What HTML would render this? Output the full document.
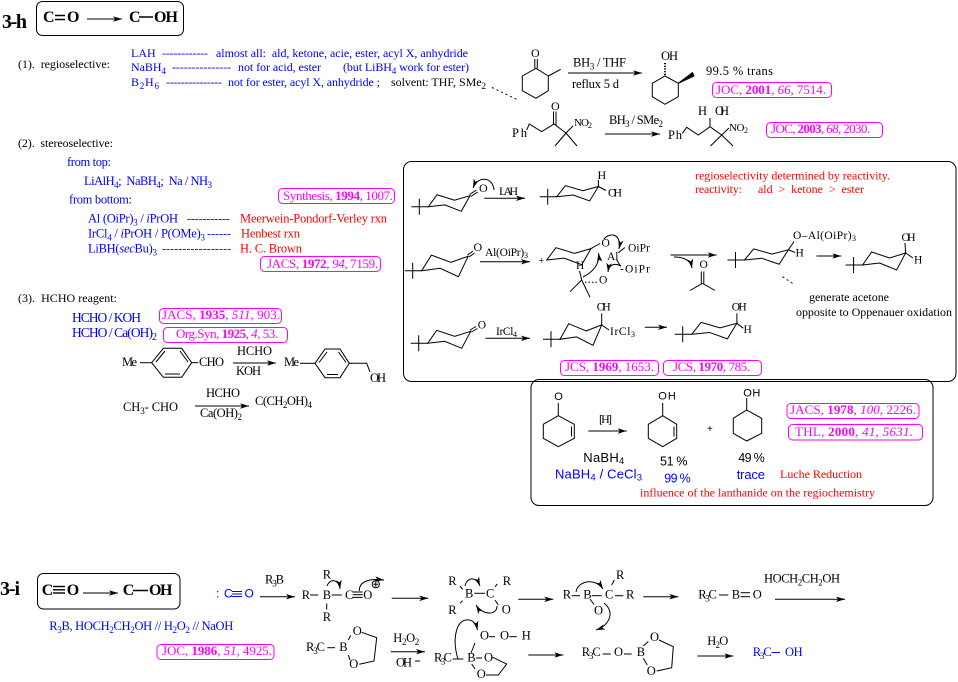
<!DOCTYPE html>
<html><head><meta charset="utf-8">
<style>
html,body{margin:0;padding:0;background:#fff;width:958px;height:682px;overflow:hidden}
svg{display:block}
text{font-family:"Liberation Serif",serif;font-size:12px;fill:#000;white-space:pre}
.s{font-family:"Liberation Sans",sans-serif}
.b{fill:#00f}.r{fill:#f00}.m{fill:#f0f;font-size:13px}
.bd{font-weight:bold}
.i{font-style:italic}
.k{font-size:12.5px}
</style></head><body>
<svg xmlns="http://www.w3.org/2000/svg" width="958" height="682" viewBox="0 0 958 682">
<defs>
<marker id="a" viewBox="0 0 10 6" refX="10" refY="3" markerWidth="9" markerHeight="5.5" orient="auto" markerUnits="userSpaceOnUse"><path d="M0,0 L10,3 L0,6 L2.5,3z" style="fill:#000;stroke:none"/></marker>
<path id="ch" d="M0,0 L9,-13 L27,-7 L43,-12 L34,5 L17,-2 Z" vector-effect="non-scaling-stroke"/>
<path id="tb" d="M-17,0 H0 M-9,-8 V8"/>
</defs>

<g stroke="#000" stroke-width="1" fill="none">
<!-- 3-h header box -->
<rect x="36.5" y="1.5" width="147" height="34" rx="6"/>
<line x1="55" y1="15.5" x2="65" y2="15.5" stroke-width="1.5"/><line x1="55" y1="19.5" x2="65" y2="19.5" stroke-width="1.5"/>
<line x1="87" y1="19" x2="122" y2="19" marker-end="url(#a)"/>
<line x1="139" y1="17" x2="153" y2="17" stroke-width="1.5"/>

<line x1="492" y1="87.5" x2="517" y2="99.5" stroke-dasharray="2,3"/>

<!-- 2-methylcyclohexanone -->
<polygon points="536,68.3 548.3,76 548.3,90.7 536,98.3 522.3,90.7 522.3,76"/>
<line x1="548.3" y1="76" x2="560.7" y2="69.3"/>
<line x1="534.8" y1="68.3" x2="534.8" y2="59"/><line x1="537.3" y1="68.3" x2="537.3" y2="59"/>
<line x1="568" y1="73" x2="642" y2="73" marker-end="url(#a)"/>
<polygon points="665,76 678.3,83.3 678.3,96.7 665,104.3 652.3,96.7 652.3,83.3"/>
<line x1="665" y1="75" x2="665" y2="63" stroke-width="2" stroke-dasharray="1.2,1.5"/>
<polygon points="678.3,83.3 692.5,72.5 694,76" fill="#000"/>

<!-- nitro ketone -->
<polyline points="526.7,130 529.3,124 541.7,131.7 554,124 566,133"/>
<line x1="553.5" y1="124" x2="553.5" y2="111.5"/><line x1="556" y1="125" x2="556" y2="111.5"/>
<line x1="566" y1="133" x2="555" y2="146"/><line x1="566" y1="133" x2="577" y2="146"/><line x1="566" y1="133" x2="573" y2="126"/>
<line x1="605" y1="134" x2="660" y2="134" marker-end="url(#a)"/>
<polyline points="682.3,133.3 686.7,127.3 698.3,135 710,126.7 721.7,135"/>
<line x1="710" y1="126.7" x2="710" y2="118"/>
<line x1="721.7" y1="135" x2="710.5" y2="146"/><line x1="721.7" y1="135" x2="733" y2="146"/><line x1="721.7" y1="135" x2="729" y2="128"/>

<!-- big box 1 -->
<rect x="403.5" y="161.5" width="552.5" height="220" rx="8"/>
<!-- row 1 -->
<use href="#tb" x="428.3" y="206.7"/>
<use href="#ch" transform="translate(428.3,206.7) scale(0.97,0.92)"/>
<line x1="469.5" y1="194.5" x2="476.5" y2="190"/><line x1="470.8" y1="196.5" x2="477.8" y2="192"/>
<path d="M494,190 C493,177 478,175 473,188" marker-end="url(#a)"/>
<line x1="484.3" y1="198.3" x2="525" y2="198.3" marker-end="url(#a)"/>
<use href="#tb" x="556.7" y="196.7"/>
<use href="#ch" transform="translate(556.7,196.7) scale(0.97,0.85)"/>
<line x1="598.4" y1="186.5" x2="598.4" y2="180"/><line x1="598.4" y1="186.5" x2="606" y2="190.5"/>
<!-- row 2 -->
<use href="#tb" x="421.7" y="270.7"/>
<use href="#ch" transform="translate(421.7,270.7) scale(1.08,1.2)"/>
<line x1="467.5" y1="255" x2="473" y2="251"/><line x1="469" y1="257" x2="474.5" y2="253"/>
<line x1="480" y1="261.7" x2="530" y2="261.7" marker-end="url(#a)"/>
<use href="#ch" transform="translate(546.7,260) scale(1.03,0.95)"/>
<line x1="591" y1="248.6" x2="600" y2="243.5"/>
<line x1="581.7" y1="280" x2="570" y2="291.7"/><line x1="581.7" y1="280" x2="590" y2="297.3"/><line x1="581.7" y1="280" x2="579.5" y2="271"/>
<line x1="585" y1="282.3" x2="598.3" y2="282.3" stroke-dasharray="1.5,2"/>
<line x1="618.3" y1="252.7" x2="625" y2="247.5"/><line x1="616.7" y1="260" x2="620" y2="265"/>
<path d="M604,239 C611,231 622,235 619,249" marker-end="url(#a)"/>
<path d="M583,277 C593,272 600,264 598.5,253" marker-end="url(#a)"/>
<path d="M621,266 C615,263 609,264 608,272" marker-end="url(#a)"/>
<line x1="670.5" y1="255" x2="716.7" y2="255" marker-end="url(#a)"/>
<path d="M674,257 Q690,257 692,268" marker-end="url(#a)"/>
<line x1="701.3" y1="283.3" x2="701.3" y2="271.5"/><line x1="703.8" y1="283.3" x2="703.8" y2="271.5"/>
<line x1="702.5" y1="283.3" x2="690" y2="290.5"/><line x1="702.5" y1="283.3" x2="715" y2="290.5"/>
<use href="#tb" x="744.5" y="260"/>
<use href="#ch" transform="translate(744.5,260) scale(1.02,0.85)"/>
<line x1="788.4" y1="249.8" x2="794" y2="241.5"/><line x1="788.4" y1="249.8" x2="795" y2="252.5"/>
<line x1="782.6" y1="276.7" x2="795" y2="285" stroke-dasharray="2,3"/>
<line x1="816.4" y1="256" x2="841.3" y2="256" marker-end="url(#a)"/>
<use href="#tb" x="862.6" y="265"/>
<use href="#ch" transform="translate(862.6,265)"/>
<line x1="905.6" y1="253" x2="905" y2="243"/><line x1="905.6" y1="253" x2="913" y2="258"/>
<!-- row 3 -->
<use href="#tb" x="427.7" y="343.3"/>
<use href="#ch" x="427.7" y="343.3"/>
<line x1="470" y1="330" x2="476" y2="326.5"/><line x1="471.4" y1="332" x2="477.4" y2="328.5"/>
<line x1="485.4" y1="338.3" x2="530" y2="338.3" marker-end="url(#a)"/>
<use href="#tb" x="560" y="339.3"/>
<use href="#ch" transform="translate(560,339.3) scale(0.97,1.2)"/>
<line x1="601.7" y1="325" x2="601.7" y2="313.3"/><line x1="601.7" y1="325" x2="609" y2="330"/>
<line x1="644.8" y1="327.3" x2="667" y2="327.3" marker-end="url(#a)"/>
<use href="#tb" x="691.7" y="334.3"/>
<use href="#ch" transform="translate(691.7,334.3) scale(1.05,0.92)"/>
<line x1="736.9" y1="323.3" x2="736.9" y2="313.3"/><line x1="736.9" y1="323.3" x2="743.3" y2="328.3"/>

<!-- box 2 Luche -->
<rect x="531" y="379.5" width="402" height="126" rx="8"/>
<polygon points="558.3,415.7 574.3,424.3 574.3,438.3 558.3,446.7 543.3,438.3 543.3,424.3"/>
<line x1="571.5" y1="426.5" x2="571.5" y2="436.5"/>
<line x1="558.3" y1="415.7" x2="558.3" y2="403"/>
<line x1="588.3" y1="431" x2="626.7" y2="431" marker-end="url(#a)"/>
<polygon points="662.7,415.7 676.7,424.3 676.7,438.3 662.7,446.7 648.3,438.3 648.3,424.3"/>
<line x1="674" y1="426.5" x2="674" y2="436.5"/>
<line x1="662.7" y1="415.7" x2="662.7" y2="403"/>
<polygon points="746.7,410 761.7,418.3 761.7,433.3 746.7,441 733.3,433.3 733.3,418.3"/>
<line x1="746.7" y1="410" x2="746.7" y2="398"/>

<!-- section 3 rings -->
<line x1="140" y1="362.7" x2="151.7" y2="362.7"/>
<polygon points="151.7,362.7 163.3,348.3 181.7,348.3 191.7,362.7 181.7,377.3 163.3,377.3"/>
<line x1="156" y1="362" x2="165" y2="351"/><line x1="180" y1="351" x2="188" y2="362"/><line x1="165" y1="374" x2="180" y2="374"/>
<line x1="191.7" y1="362.7" x2="198.3" y2="362.7"/>
<line x1="233" y1="363" x2="276" y2="363" marker-end="url(#a)"/>
<line x1="300" y1="363.3" x2="315" y2="363.3"/>
<polygon points="315,363.3 325,349 340,349 349.3,363.3 340,377.7 325,377.7"/>
<line x1="319" y1="362.5" x2="327" y2="352"/><line x1="338.5" y1="352" x2="346" y2="362.5"/><line x1="327" y1="374.5" x2="338" y2="374.5"/>
<polyline points="349.3,363.3 366.7,363.3 370,372"/>
<line x1="195" y1="406" x2="249" y2="406" marker-end="url(#a)"/>

<!-- 3-i -->
<rect x="37.5" y="573.5" width="142.5" height="35.5" rx="6"/>
<line x1="53" y1="586.5" x2="65" y2="586.5" stroke-width="1.4"/><line x1="53" y1="589.8" x2="65" y2="589.8" stroke-width="1.4"/><line x1="53" y1="593" x2="65" y2="593" stroke-width="1.4"/>
<line x1="83" y1="593" x2="118" y2="593" marker-end="url(#a)"/>
<line x1="133" y1="590.5" x2="148" y2="590.5" stroke-width="1.5"/>
<line x1="260" y1="596.7" x2="295" y2="596.7" marker-end="url(#a)"/>
<line x1="310" y1="595" x2="318.3" y2="595"/><line x1="331.7" y1="595" x2="341.7" y2="595"/>
<line x1="352.7" y1="592" x2="362.7" y2="592"/><line x1="352.7" y1="594.7" x2="362.7" y2="594.7"/><line x1="352.7" y1="597.4" x2="362.7" y2="597.4"/>
<line x1="326.7" y1="603.5" x2="326.7" y2="609.5"/>
<path d="M327,586 C330,578 339,579 340,589" marker-end="url(#a)"/>
<path d="M359.3,591 C359,583 366,578 384,580" marker-end="url(#a)"/>
<circle cx="375.8" cy="584.2" r="3.6"/><line x1="373.3" y1="584.2" x2="378.3" y2="584.2"/><line x1="375.8" y1="581.7" x2="375.8" y2="586.7"/>
<line x1="391.7" y1="598.3" x2="428.3" y2="598.3" marker-end="url(#a)"/>
<line x1="460" y1="586" x2="462.7" y2="589.3"/><line x1="460" y1="603.3" x2="462.7" y2="600.7"/>
<line x1="474.3" y1="593.3" x2="485" y2="593.3"/><line x1="495" y1="586.7" x2="497.3" y2="584"/><line x1="495" y1="600" x2="498.3" y2="605"/>
<path d="M465,586 C467,577 476,576 480,586" marker-end="url(#a)"/>
<path d="M497,606 C497,616 482,615 476,605" marker-end="url(#a)"/>
<line x1="518.3" y1="599.3" x2="553.3" y2="599.3" marker-end="url(#a)"/>
<line x1="571.7" y1="595.7" x2="580" y2="595.7"/><line x1="591.7" y1="595.7" x2="601.7" y2="595.7"/><line x1="615" y1="595.7" x2="623.3" y2="595.7"/>
<line x1="611.7" y1="585" x2="614.3" y2="580"/><line x1="590" y1="599" x2="594" y2="604.5"/>
<path d="M576,592 C578,580 596,578 603,589" marker-end="url(#a)"/>
<path d="M604,603 C615,612 610,625 596,630" marker-end="url(#a)"/>
<line x1="643.3" y1="596.7" x2="678.3" y2="596.7" marker-end="url(#a)"/>
<line x1="719" y1="595" x2="728.3" y2="595"/>
<line x1="740.7" y1="592.7" x2="750" y2="592.7"/><line x1="740.7" y1="596.7" x2="750" y2="596.7"/>
<line x1="775" y1="599.3" x2="845" y2="599.3" marker-end="url(#a)"/>
<!-- lower row -->
<line x1="327.3" y1="647.7" x2="335" y2="647.7"/>
<line x1="348.3" y1="640" x2="350.7" y2="635.5"/><line x1="348.3" y1="655" x2="350" y2="660"/>
<polyline points="361.7,632.3 376.7,637.7 374,661 359.3,664.3"/>
<line x1="390.7" y1="651.7" x2="425" y2="651.7" marker-end="url(#a)"/>
<line x1="415" y1="661" x2="420" y2="661"/>
<line x1="452.7" y1="659" x2="463.3" y2="659"/>
<line x1="476" y1="658" x2="482" y2="658"/>
<line x1="471.7" y1="664" x2="475" y2="669"/>
<line x1="471" y1="653" x2="475" y2="643"/>
<polyline points="492.7,657.3 506.7,664 498.3,675 486,675"/>
<line x1="489" y1="636.7" x2="495" y2="636.7"/><line x1="509.3" y1="636.7" x2="516.7" y2="636.7"/>
<path d="M458,659 C452,640 456,621 466,620 C472,619 476,623 477.5,630" marker-end="url(#a)"/>
<line x1="528.3" y1="655" x2="563.3" y2="655" marker-end="url(#a)"/>
<line x1="602.7" y1="654" x2="610.7" y2="654"/><line x1="624" y1="654" x2="631.7" y2="654"/>
<line x1="643.3" y1="646" x2="648.3" y2="641.5"/><line x1="643.3" y1="658.3" x2="647.3" y2="665"/>
<polyline points="659,640 673.3,646.7 671.7,667.7 656.7,671"/>
<line x1="697.3" y1="656" x2="733.3" y2="656" marker-end="url(#a)"/>
</g>
<g stroke="#00f" fill="none">
<line x1="232" y1="591.5" x2="242" y2="591.5"/><line x1="232" y1="594" x2="242" y2="594"/><line x1="232" y1="596.5" x2="242" y2="596.5"/>
<line x1="771.7" y1="652.5" x2="780" y2="652.5"/>
</g>

<!-- reference boxes -->
<g stroke="#f0f" fill="none">
<rect x="712.5" y="82.5" width="119" height="15" rx="4"/>
<rect x="766.5" y="122.5" width="116" height="15" rx="4"/>
<rect x="278.5" y="188.5" width="116" height="15" rx="4"/>
<rect x="260.5" y="256.5" width="120" height="15" rx="4"/>
<rect x="159.5" y="308.5" width="122" height="15" rx="4"/>
<rect x="163.5" y="327.5" width="124" height="15" rx="4"/>
<rect x="560.5" y="360.5" width="98" height="15" rx="4"/>
<rect x="663.5" y="360.5" width="98" height="15" rx="4"/>
<rect x="787" y="403.5" width="132" height="15" rx="4"/>
<rect x="788.5" y="424.5" width="134" height="15.5" rx="4"/>
<rect x="157" y="644.5" width="117" height="15" rx="4"/>
</g>
<text x="716" y="94" class="m" textLength="110">JOC, <tspan class="bd">2001</tspan>, <tspan class="i">66</tspan>, 7514.</text>
<text x="771" y="133" class="m" textLength="99">JOC, <tspan class="bd">2003</tspan>, <tspan class="i">68</tspan>, 2030.</text>
<text x="283" y="200" class="m" textLength="110">Synthesis, <tspan class="bd">1994</tspan>, 1007.</text>
<text x="267" y="268" class="m" textLength="111">JACS, <tspan class="bd">1972</tspan>, <tspan class="i">94</tspan>, 7159.</text>
<text x="162" y="319" class="m" textLength="118">JACS, <tspan class="bd">1935</tspan>, <tspan class="i">511</tspan>, 903.</text>
<text x="176" y="338" class="m" textLength="102">Org.Syn, <tspan class="bd">1925</tspan>, <tspan class="i">4</tspan>, 53.</text>
<text x="565" y="371" class="m" textLength="89">JCS, <tspan class="bd">1969</tspan>, 1653.</text>
<text x="673" y="371" class="m" textLength="77">JCS, <tspan class="bd">1970</tspan>, 785.</text>
<text x="790" y="414" class="m" textLength="126">JACS, <tspan class="bd">1978</tspan>, <tspan class="i">100</tspan>, 2226.</text>
<text x="795" y="436" class="m" textLength="118">THL, <tspan class="bd">2000</tspan>, <tspan class="i">41</tspan>, <tspan class="i">5631.</tspan></text>
<text x="162" y="655" class="m" textLength="110">JOC, <tspan class="bd">1986</tspan>, <tspan class="i">51</tspan>, 4925.</text>

<!-- header texts -->
<text x="2" y="28" class="bd" style="font-size:20px" textLength="25">3-h</text>
<text x="43" y="22" class="bd" style="font-size:16px">C</text>
<text x="67" y="22" class="bd" style="font-size:16px">O</text>
<text x="129" y="22" class="bd" style="font-size:16px">C</text>
<text x="154" y="22" class="bd" style="font-size:16px" textLength="24">OH</text>

<!-- section 1 -->
<text x="18" y="68" textLength="92">(1).  regioselective:</text>
<text x="131" y="57" class="b">LAH</text>
<text x="162" y="57" class="b" textLength="46">------------</text>
<text x="216" y="57" class="b" textLength="252">almost all:  ald, ketone, acie, ester, acyl X, anhydride</text>
<text x="131" y="71" class="b" textLength="35">NaBH<tspan dy="3" style="font-size:9px">4</tspan></text>
<text x="172" y="71" class="b" textLength="59">---------------</text>
<text x="238" y="71" class="b" textLength="83">not for acid, ester</text>
<text x="343" y="71" class="b" textLength="126">(but LiBH<tspan dy="3" style="font-size:9px">4</tspan><tspan dy="-3"> work for ester)</tspan></text>
<text x="131" y="86" class="b" textLength="28">B<tspan dy="3" style="font-size:9px">2</tspan><tspan dy="-3">H</tspan><tspan dy="3" style="font-size:9px">6</tspan></text>
<text x="166" y="86" class="b" textLength="56">---------------</text>
<text x="228" y="86" class="b" textLength="152">not for ester, acyl X, anhydride ;</text>
<text x="391" y="86" textLength="95">solvent: THF, SMe<tspan dy="3" style="font-size:9px">2</tspan></text>

<!-- top-right reactions -->
<text x="531" y="57">O</text>
<text x="573" y="66.5" class="k" textLength="53">BH<tspan dy="3" style="font-size:9px">3</tspan><tspan dy="-3"> / THF</tspan></text>
<text x="572" y="88" class="k" textLength="47">reflux 5 d</text>
<text x="661" y="60" class="k" textLength="17">OH</text>
<text x="706" y="75" class="k" textLength="67">99.5 % trans</text>
<text x="512" y="137" class="k" textLength="15">Ph</text>
<text x="551" y="110">O</text>
<text x="574" y="126" style="font-size:11px" textLength="18">NO<tspan dy="2" style="font-size:8px">2</tspan></text>
<text x="609" y="124" class="k" textLength="54">BH<tspan dy="3" style="font-size:9px">3</tspan><tspan dy="-3"> / SMe</tspan><tspan dy="3" style="font-size:9px">2</tspan></text>
<text x="668" y="139" class="k" textLength="14">Ph</text>
<text x="698" y="115" class="k">H</text>
<text x="715" y="115" class="k" textLength="14">OH</text>
<text x="729" y="131" style="font-size:11px" textLength="19">NO<tspan dy="2" style="font-size:8px">2</tspan></text>

<!-- section 2 -->
<text x="18" y="147" textLength="95">(2).  stereoselective:</text>
<text x="67" y="166" class="b k" textLength="44">from top:</text>
<text x="84" y="185" class="b k" textLength="128">LiAlH<tspan dy="3" style="font-size:9px">4</tspan><tspan dy="-3">;  NaBH</tspan><tspan dy="3" style="font-size:9px">4</tspan><tspan dy="-3">;  Na / NH</tspan><tspan dy="3" style="font-size:9px">3</tspan></text>
<text x="69" y="203.5" class="b k" textLength="63">from bottom:</text>
<text x="88" y="222.5" class="b k" textLength="90">Al (OiPr)<tspan dy="3" style="font-size:9px">3</tspan><tspan dy="-3"> / </tspan><tspan class="i">i</tspan>PrOH</text>
<text x="187" y="222.5" class="b" textLength="43">-----------</text>
<text x="240" y="222.5" class="r k" textLength="147">Meerwein-Pondorf-Verley rxn</text>
<text x="88" y="237.5" class="b k" textLength="117">IrCl<tspan dy="3" style="font-size:9px">4</tspan><tspan dy="-3"> / </tspan><tspan class="i">i</tspan>PrOH / P(OMe)<tspan dy="3" style="font-size:9px">3</tspan></text>
<text x="207" y="237.5" class="b" textLength="24">------</text>
<text x="241" y="237.5" class="r k" textLength="59">Henbest rxn</text>
<text x="88" y="252.5" class="b k" textLength="69">LiBH(<tspan class="i">sec</tspan>Bu)<tspan dy="3" style="font-size:9px">3</tspan></text>
<text x="162" y="252.5" class="b" textLength="69">-----------------</text>
<text x="240" y="252.5" class="r k" textLength="62">H. C. Brown</text>

<!-- section 3 -->
<text x="18" y="302" textLength="99">(3).  HCHO reagent:</text>
<text x="72" y="322" class="b" style="font-size:13.5px" textLength="69">HCHO / KOH</text>
<text x="72" y="337" class="b" style="font-size:13.5px" textLength="85">HCHO / Ca(OH)<tspan dy="3" style="font-size:10px">2</tspan></text>
<text x="122" y="366" class="k" textLength="15">Me</text>
<text x="199" y="366" class="k" textLength="25">CHO</text>
<text x="237" y="355" class="k" textLength="35">HCHO</text>
<text x="236" y="375" class="k" textLength="25">KOH</text>
<text x="284" y="366" class="k" textLength="15">Me</text>
<text x="370" y="382" class="k" textLength="16">OH</text>
<text x="123" y="411" class="k" textLength="55">CH<tspan dy="3" style="font-size:9px">3</tspan><tspan dy="-3">- CHO</tspan></text>
<text x="206" y="397" class="k" textLength="34">HCHO</text>
<text x="200" y="417" class="k" textLength="42">Ca(OH)<tspan dy="3" style="font-size:9px">2</tspan></text>
<text x="255" y="405" class="k" textLength="57">C(CH<tspan dy="3" style="font-size:9px">2</tspan><tspan dy="-3">OH)</tspan><tspan dy="3" style="font-size:9px">4</tspan></text>

<!-- box 1 texts -->
<text x="479" y="192">O</text>
<text x="499" y="195" textLength="19">LAH</text>
<text x="597.5" y="179">H</text>
<text x="608" y="196.5" textLength="14">OH</text>
<text x="695" y="179.5" class="r" textLength="195">regioselectivity determined by reactivity.</text>
<text x="695" y="193" class="r" textLength="47">reactivity:</text>
<text x="758" y="193" class="r" textLength="106">ald  &gt;  ketone  &gt;  ester</text>
<text x="473.5" y="251">O</text>
<text x="485" y="256" style="font-size:11.5px" textLength="43">Al(OiPr)<tspan dy="2" style="font-size:8px">3</tspan></text>
<text x="538.5" y="264" style="font-size:10px">+</text>
<text x="601.5" y="246.5" style="font-size:11.5px">O</text>
<text x="576" y="269" style="font-size:11.5px">H</text>
<text x="607" y="260" style="font-size:11.5px">Al</text>
<text x="628" y="251.7" style="font-size:11.5px" textLength="22">OiPr</text>
<text x="620" y="272.5" style="font-size:11.5px" textLength="30">-OiPr</text>
<text x="599" y="283.5" style="font-size:11.5px">O</text>
<text x="699.5" y="268" style="font-size:11.5px">O</text>
<text x="793" y="239" style="font-size:11.5px" textLength="63">O–Al(OiPr)<tspan dy="2" style="font-size:8px">3</tspan></text>
<text x="795.5" y="256.5" style="font-size:11.5px">H</text>
<text x="901.5" y="241" style="font-size:11.5px" textLength="14">OH</text>
<text x="914" y="263.5" style="font-size:11.5px">H</text>
<text x="809" y="301" textLength="80">generate acetone</text>
<text x="796" y="316" textLength="156">opposite to Oppenauer oxidation</text>
<text x="477.7" y="328.3" style="font-size:11.5px">O</text>
<text x="496" y="335" style="font-size:11.5px" textLength="21">IrCl<tspan dy="2" style="font-size:8px">4</tspan></text>
<text x="596.7" y="310.5" style="font-size:11.5px" textLength="14">OH</text>
<text x="610" y="335" style="font-size:11.5px" textLength="25">IrCl<tspan dy="2" style="font-size:8px">3</tspan></text>
<text x="731.7" y="310.7" style="font-size:11.5px" textLength="15">OH</text>
<text x="743.5" y="333" style="font-size:11.5px">H</text>

<!-- Luche texts -->
<text x="554.3" y="400" class="s" style="font-size:11px">O</text>
<text x="599" y="423" textLength="13">[H]</text>
<text x="658.3" y="399.5" class="s" style="font-size:11px" textLength="17.5">OH</text>
<text x="707" y="432" class="s" style="font-size:10px">+</text>
<text x="743.3" y="396.7" class="s" style="font-size:11px" textLength="17">OH</text>
<text x="583.3" y="462" class="s" style="font-size:13px" textLength="41">NaBH<tspan dy="2" style="font-size:9.5px">4</tspan></text>
<text x="660" y="465.3" class="s" style="font-size:12.5px" textLength="27.5">51 %</text>
<text x="738.3" y="462" class="s" style="font-size:12.5px" textLength="26.5">49 %</text>
<text x="555" y="478.5" class="s b" style="font-size:13px" textLength="87">NaBH<tspan dy="2" style="font-size:9.5px">4</tspan><tspan dy="-2"> / CeCl</tspan><tspan dy="2" style="font-size:9.5px">3</tspan></text>
<text x="664.3" y="482.5" class="s b" style="font-size:12.5px" textLength="26.5">99 %</text>
<text x="736.7" y="479" class="s b" style="font-size:13px" textLength="28.3">trace</text>
<text x="780" y="478" class="r" textLength="82">Luche Reduction</text>
<text x="640" y="496.5" class="r" textLength="235">influence of the lanthanide on the regiochemistry</text>

<!-- 3-i texts -->
<text x="0" y="595" class="bd" style="font-size:20px" textLength="20">3-i</text>
<text x="41.7" y="595" class="bd" style="font-size:16px">C</text>
<text x="66.7" y="595" class="bd" style="font-size:16px">O</text>
<text x="122.7" y="595" class="bd" style="font-size:16px">C</text>
<text x="149" y="595" class="bd" style="font-size:16px" textLength="23.5">OH</text>
<text x="216" y="597.7" class="s b">:</text>
<text x="224" y="597.7" class="s b">C</text>
<text x="244.5" y="597.7" class="s b">O</text>
<text x="49.3" y="630" class="b k" textLength="184">R<tspan dy="3" style="font-size:9px">3</tspan><tspan dy="-3">B, HOCH</tspan><tspan dy="3" style="font-size:9px">2</tspan><tspan dy="-3">CH</tspan><tspan dy="3" style="font-size:9px">2</tspan><tspan dy="-3">OH // H</tspan><tspan dy="3" style="font-size:9px">2</tspan><tspan dy="-3">O</tspan><tspan dy="3" style="font-size:9px">2</tspan><tspan dy="-3"> // NaOH</tspan></text>
<text x="265" y="583.3" class="k" textLength="19">R<tspan dy="3" style="font-size:9px">3</tspan><tspan dy="-3">B</tspan></text>
<text x="301.7" y="599" class="k">R</text>
<text x="322.7" y="599" class="k">B</text>
<text x="345" y="599" class="k">C</text>
<text x="363.3" y="599" class="k">O</text>
<text x="322.7" y="578.3" class="k">R</text>
<text x="322.7" y="621" class="k">R</text>
<text x="448.3" y="585" class="k">R</text>
<text x="465" y="597.3" class="k">B</text>
<text x="448.3" y="614" class="k">R</text>
<text x="486" y="597.3" class="k">C</text>
<text x="502.7" y="585" class="k">R</text>
<text x="501.7" y="613.3" class="k">O</text>
<text x="562.7" y="598.3" class="k">R</text>
<text x="583.3" y="598.3" class="k">B</text>
<text x="605" y="598.3" class="k">C</text>
<text x="626" y="598.3" class="k">R</text>
<text x="616" y="579" class="k">R</text>
<text x="594" y="614.3" class="k">O</text>
<text x="698.3" y="598.3" class="k" textLength="18.5">R<tspan dy="3" style="font-size:9px">3</tspan><tspan dy="-3">C</tspan></text>
<text x="731.7" y="598.3" class="k">B</text>
<text x="752.7" y="598.3" class="k">O</text>
<text x="764" y="582.3" class="k" textLength="76">HOCH<tspan dy="3" style="font-size:9px">2</tspan><tspan dy="-3">CH</tspan><tspan dy="3" style="font-size:9px">2</tspan><tspan dy="-3">OH</tspan></text>
<text x="306" y="651" class="k" textLength="19">R<tspan dy="3" style="font-size:9px">3</tspan><tspan dy="-3">C</tspan></text>
<text x="339.3" y="651" class="k">B</text>
<text x="352.7" y="635" class="k">O</text>
<text x="349.3" y="668" class="k">O</text>
<text x="393.3" y="642" class="k" textLength="26">H<tspan dy="3" style="font-size:9px">2</tspan><tspan dy="-3">O</tspan><tspan dy="3" style="font-size:9px">2</tspan></text>
<text x="396" y="666.7" class="k" textLength="16">OH</text>
<text x="434" y="661.7" class="k" textLength="18">R<tspan dy="3" style="font-size:9px">3</tspan><tspan dy="-3">C</tspan></text>
<text x="467.3" y="661.7" class="k">B</text>
<text x="484" y="661.7" class="k">O</text>
<text x="476.7" y="678" class="k">O</text>
<text x="480" y="639.3" class="k">O</text>
<text x="500" y="639.3" class="k">O</text>
<text x="521.7" y="639.3" class="k">H</text>
<text x="581.7" y="656" class="k" textLength="19">R<tspan dy="3" style="font-size:9px">3</tspan><tspan dy="-3">C</tspan></text>
<text x="614" y="656" class="k">O</text>
<text x="636.7" y="656" class="k">B</text>
<text x="650" y="641" class="k">O</text>
<text x="646.7" y="675" class="k">O</text>
<text x="707.3" y="645" class="k" textLength="21">H<tspan dy="3" style="font-size:9px">2</tspan><tspan dy="-3">O</tspan></text>
<text x="752.7" y="656" class="b k" textLength="19">R<tspan dy="3" style="font-size:9px">3</tspan><tspan dy="-3">C</tspan></text>
<text x="785" y="656" class="b k" textLength="17.7">OH</text>
</svg>
</body></html>
